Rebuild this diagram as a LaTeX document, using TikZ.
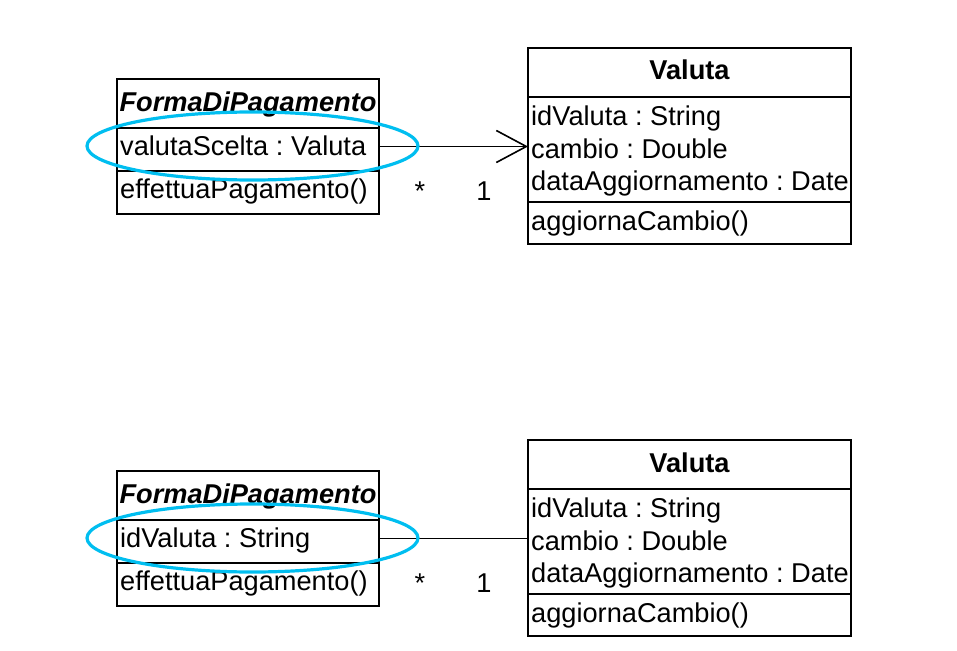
\documentclass[tikz,border=0pt]{standalone}
\usepackage{fontspec}
\setmainfont{Liberation Sans}
\usetikzlibrary{arrows.meta}
\definecolor{hilite}{RGB}{0,190,240}
\frenchspacing
\begin{document}
\begin{tikzpicture}[x=1pt,y=-1pt,
  comp/.style={draw, line width=1.8pt, inner sep=0pt, outer sep=0pt, anchor=north west},
  lbl/.style={inner sep=0pt, anchor=base west, font=\fontsize{27.2}{32}\selectfont},
  ttl/.style={inner sep=0pt, anchor=base, font=\fontsize{27.2}{32}\selectfont\bfseries},
  mult/.style={inner sep=0pt, anchor=base, font=\fontsize{27.2}{32}\selectfont},
  link/.style={line width=1.6pt},
  focus/.style={draw=hilite, line width=3.2pt}]
\useasboundingbox (0,0) rectangle (957,650);

% ---------- upper diagram: navigable association ----------
\node[comp, minimum width=262pt, minimum height=49pt] (fpAhead) at (117,79) {};
\node[comp, minimum width=262pt, minimum height=43pt] (fpAattr) at (117,128) {};
\node[comp, minimum width=262pt, minimum height=43pt] (fpAops)  at (117,171) {};
\node[ttl] (fpAname) at (248,111) {\itshape FormaDiPagamento};
\node[lbl] (fpAa1) at (120,155) {valutaScelta : Valuta};
\node[lbl] (fpAo1) at (120,198) {effettuaPagamento()};

\node[comp, minimum width=323pt, minimum height=49pt]  (vAhead) at (528,48) {};
\node[comp, minimum width=323pt, minimum height=105pt] (vAattr) at (528,97) {};
\node[comp, minimum width=323pt, minimum height=42pt]  (vAops)  at (528,202) {};
\node[ttl] (vAname) at (689.5,80) {Valuta};
\node[lbl] (vAa1) at (531,125) {idValuta : String};
\node[lbl] (vAa2) at (531,158) {cambio : Double};
\node[lbl] (vAa3) at (531,190) {dataAggiornamento : Date};
\node[lbl] (vAo1) at (531,230) {aggiornaCambio()};

\draw[link, -{Straight Barb[length=30pt, width=32pt, line width=1.6pt]}]
  ([yshift=3pt]fpAattr.east) -- ([yshift=3pt]fpAattr.east -| vAattr.west);
\node[mult] (mAmany) at (420,200) {*};
\node[mult] (mAone)  at (484,200) {1};
\draw[focus] (252.5,146) ellipse [x radius=165.5pt, y radius=34pt];

% ---------- lower diagram: plain attribute ----------
\begin{scope}[yshift=-392pt]
\node[comp, minimum width=262pt, minimum height=49pt] (fpBhead) at (117,79) {};
\node[comp, minimum width=262pt, minimum height=43pt] (fpBattr) at (117,128) {};
\node[comp, minimum width=262pt, minimum height=43pt] (fpBops)  at (117,171) {};
\node[ttl] (fpBname) at (248,111) {\itshape FormaDiPagamento};
\node[lbl] (fpBa1) at (120,155) {idValuta : String};
\node[lbl] (fpBo1) at (120,198) {effettuaPagamento()};

\node[comp, minimum width=323pt, minimum height=49pt]  (vBhead) at (528,48) {};
\node[comp, minimum width=323pt, minimum height=105pt] (vBattr) at (528,97) {};
\node[comp, minimum width=323pt, minimum height=42pt]  (vBops)  at (528,202) {};
\node[ttl] (vBname) at (689.5,80) {Valuta};
\node[lbl] (vBa1) at (531,125) {idValuta : String};
\node[lbl] (vBa2) at (531,158) {cambio : Double};
\node[lbl] (vBa3) at (531,190) {dataAggiornamento : Date};
\node[lbl] (vBo1) at (531,230) {aggiornaCambio()};

\draw[link] ([yshift=3pt]fpBattr.east) -- ([yshift=3pt]fpBattr.east -| vBattr.west);
\node[mult] (mBmany) at (420,200) {*};
\node[mult] (mBone)  at (484,200) {1};
\draw[focus] (252.5,146) ellipse [x radius=165.5pt, y radius=34pt];
\end{scope}
\end{tikzpicture}
\end{document}
